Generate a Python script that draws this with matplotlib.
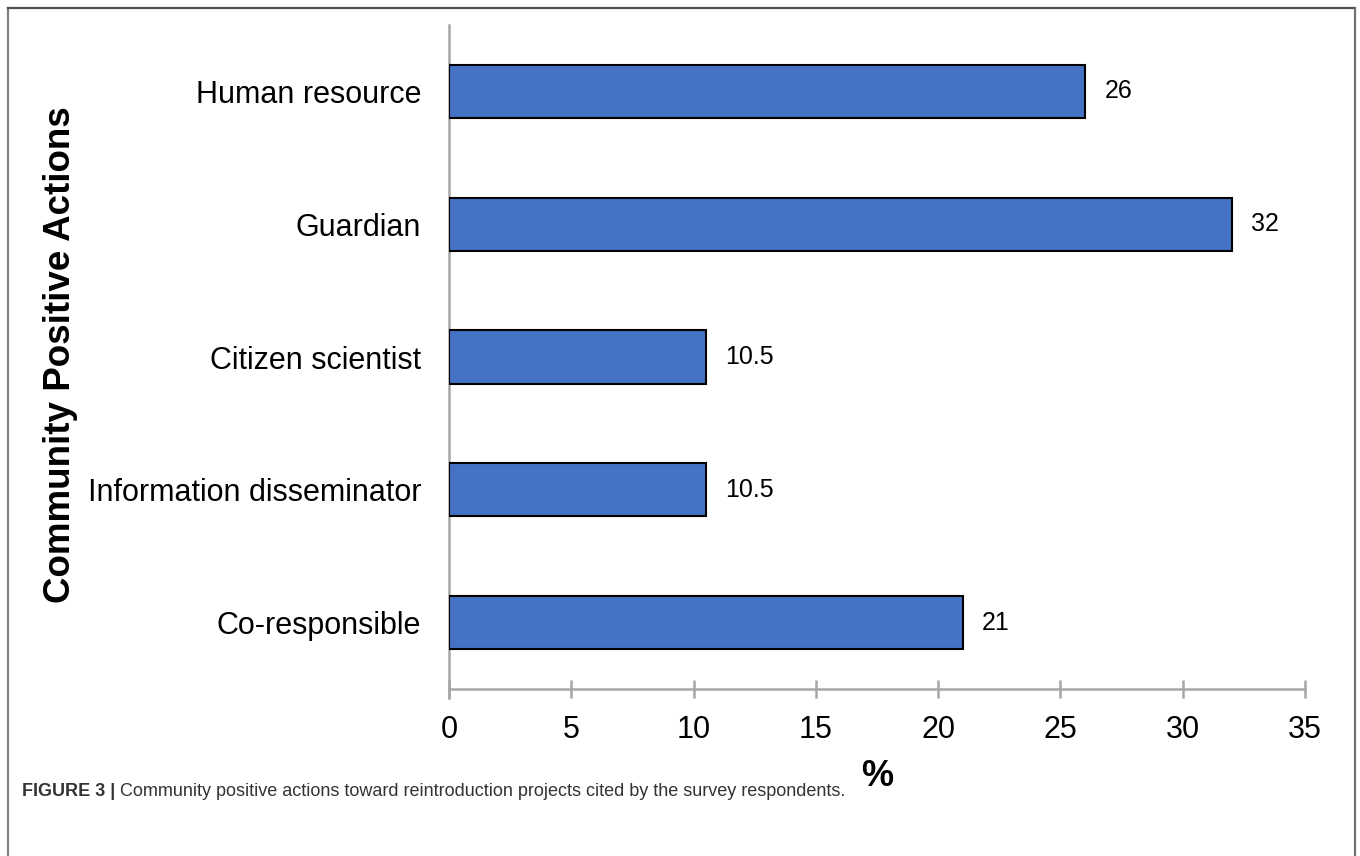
import numpy as np
import matplotlib.pyplot as plt
from matplotlib.lines import Line2D

plt.rcParams['font.family'] = ['Liberation Sans', 'DejaVu Sans']

# survey results (% of respondents)
actions = ['Human resource', 'Guardian', 'Citizen scientist',
           'Information disseminator', 'Co-responsible']
percent = [26, 32, 10.5, 10.5, 21]
value_labels = ['26', '32', '10.5', '10.5', '21']
xticks = [0, 5, 10, 15, 20, 25, 30, 35]

W, H = 1360, 856
fig = plt.figure(figsize=(W / 100, H / 100), dpi=100)
ax = fig.add_axes([449 / W, 1 - 689 / H, (1305 - 449) / W, (689 - 25) / H])

ypos = np.arange(len(actions))
ax.barh(ypos, percent, height=0.4, color='#4472C4', edgecolor='black', linewidth=1.5, zorder=3)
for y, v, lab in zip(ypos, percent, value_labels):
    ax.annotate(lab, xy=(v, y), xytext=(14, 0), textcoords='offset points',
                ha='left', va='center', fontsize=18)

ax.set_ylim(len(actions) - 0.5, -0.5)
ax.set_xlim(0, 35)
ax.set_xticks(xticks)
ax.set_xticklabels([str(t) for t in xticks], fontsize=22)
ax.set_yticks(ypos)
ax.set_yticklabels(actions, fontsize=22)

for s in ['top', 'right']:
    ax.spines[s].set_visible(False)
for s in ['left', 'bottom']:
    ax.spines[s].set_color('#a6a6a6')
    ax.spines[s].set_linewidth(1.8)
ax.spines['left'].set_bounds(len(actions) - 0.5 + 0.07, -0.5)
ax.tick_params(axis='x', direction='inout', length=13, width=1.8, color='#a6a6a6', pad=12)
ax.tick_params(axis='y', length=0, pad=20)

ax.set_xlabel('%', fontsize=26, fontweight='bold')
ax.xaxis.set_label_coords(0.5, -(777 - 689) / (689 - 25))
ax.xaxis.label.set_va('center')
fig.text(60 / W, 1 - 355 / H, 'Community Positive Actions', rotation=90,
         ha='center', va='center', fontsize=26.5, fontweight='bold')

# frame around the figure (open at the bottom)
fig.add_artist(Line2D([8 / W, 8 / W], [0, 1 - 8 / H], color='#808080', lw=1.6,
                      transform=fig.transFigure))
fig.add_artist(Line2D([8 / W, 1355 / W], [1 - 8 / H, 1 - 8 / H], color='#505050', lw=1.6,
                      transform=fig.transFigure))
fig.add_artist(Line2D([1355 / W, 1355 / W], [0, 1 - 8 / H], color='#707070', lw=1.6,
                      transform=fig.transFigure))

# caption
t1 = fig.text(22 / W, 1 - 791 / H, 'FIGURE 3 |', fontsize=13, fontweight='bold',
              color='#333333', va='center')
ax.annotate(' Community positive actions toward reintroduction projects cited by the survey respondents.',
            xy=(1, 0.5), xycoords=t1, ha='left', va='center', fontsize=13,
            color='#333333', annotation_clip=False)

fig.savefig('out.png', dpi=100)
